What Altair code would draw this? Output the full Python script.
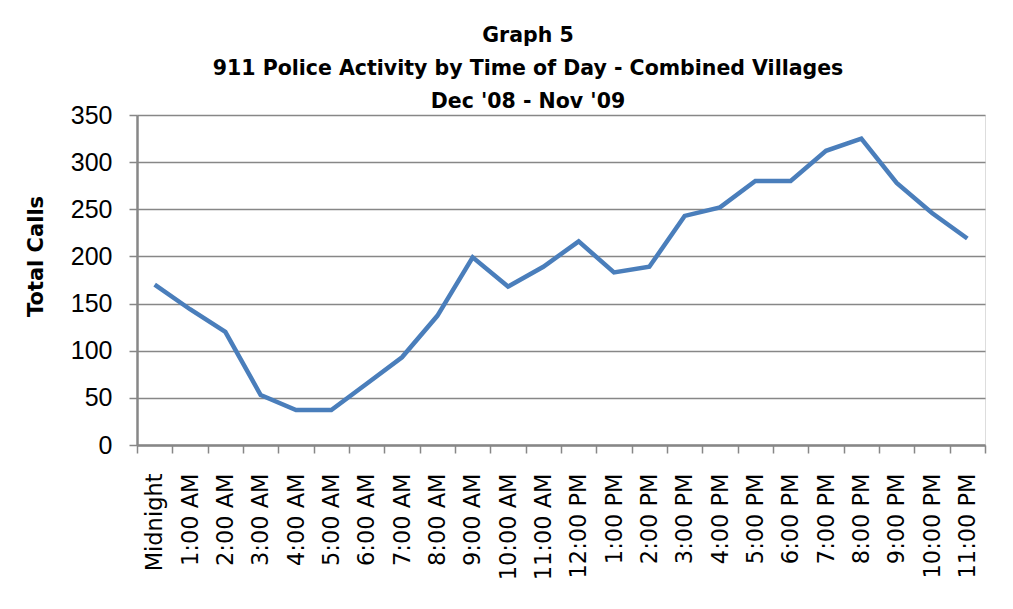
import altair as alt
import pandas as pd

hours = ["Midnight", "1:00 AM", "2:00 AM", "3:00 AM", "4:00 AM", "5:00 AM",
         "6:00 AM", "7:00 AM", "8:00 AM", "9:00 AM", "10:00 AM", "11:00 AM",
         "12:00 PM", "1:00 PM", "2:00 PM", "3:00 PM", "4:00 PM", "5:00 PM",
         "6:00 PM", "7:00 PM", "8:00 PM", "9:00 PM", "10:00 PM", "11:00 PM"]
calls = [170, 144, 120, 53, 37, 37, 65, 93, 137, 199, 168, 189,
         216, 183, 189, 243, 252, 280, 280, 312, 325, 278, 246, 219]
y_ticks = [0, 50, 100, 150, 200, 250, 300, 350]
title_lines = ["Graph 5",
               "911 Police Activity by Time of Day - Combined Villages",
               "Dec '08 - Nov '09"]

df = pd.DataFrame({"hour": hours, "calls": calls})

grid = "#878787"

chart = alt.Chart(df).mark_line(color="#4a7ebb", strokeWidth=4.5).encode(
    x=alt.X("hour:N", sort=hours,
            scale=alt.Scale(type="band", paddingInner=0, paddingOuter=0),
            axis=alt.Axis(title=None, labelAngle=-90, labelFont="DejaVu Sans",
                          labelFontSize=22.5, labelColor="black", labelPadding=20,
                          tickBand="extent", tickSize=8, tickColor=grid,
                          tickWidth=1.5, domainColor=grid, domainWidth=2.5,
                          grid=False, labelAlign="right", labelBaseline="middle")),
    y=alt.Y("calls:Q", scale=alt.Scale(domain=[0, 350], nice=False),
            axis=alt.Axis(title="Total Calls", values=y_ticks,
                          titleFont="DejaVu Sans", titleFontSize=21,
                          titleFontWeight="bold", titleColor="black",
                          titleX=-101, titleY=141, titleAngle=-90,
                          titleBaseline="middle", titleAlign="center",
                          labelFont="Liberation Sans", labelFontSize=25,
                          labelColor="black", labelPadding=17,
                          tickSize=8, tickColor=grid, tickWidth=1.5,
                          domainColor=grid, domainWidth=2.5,
                          grid=True, gridColor=grid, gridWidth=1.5)),
).properties(
    width=848, height=330,
    title=alt.TitleParams(text=title_lines, font="DejaVu Sans", fontSize=20.5,
                          fontWeight="bold", color="black", lineHeight=33,
                          anchor="middle", dx=-33, dy=17, offset=8),
    autosize=alt.AutoSizeParams(type="none"),
    padding={"left": 129, "top": 107, "right": 20, "bottom": 140},
).configure_view(stroke=None).configure(background="white")

chart.save("out.html", embed_options={"renderer": "svg", "actions": False})
